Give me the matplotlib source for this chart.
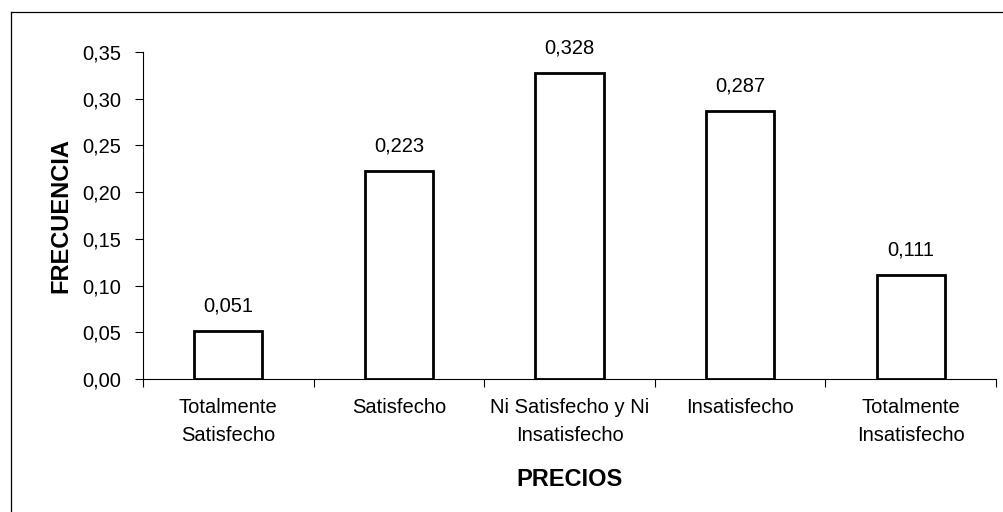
import matplotlib.pyplot as plt
import numpy as np
from matplotlib.lines import Line2D

categorias = ["Totalmente\nSatisfecho", "Satisfecho", "Ni Satisfecho y Ni\nInsatisfecho",
              "Insatisfecho", "Totalmente\nInsatisfecho"]
frecuencia = [0.051, 0.223, 0.328, 0.287, 0.111]
etiquetas = ["0,051", "0,223", "0,328", "0,287", "0,111"]
yticks = [0.0, 0.05, 0.10, 0.15, 0.20, 0.25, 0.30, 0.35]
yticklabels = ["0,00", "0,05", "0,10", "0,15", "0,20", "0,25", "0,30", "0,35"]

plt.rcParams['font.family'] = ['Liberation Sans', 'DejaVu Sans']

fig = plt.figure(figsize=(10.04, 5.12), dpi=100)
ax = fig.add_axes([143 / 1004, 1 - 379 / 512, (996 - 143) / 1004, (379 - 52) / 512])

x = np.arange(len(categorias))
ax.bar(x, frecuencia, width=0.4, color="white", edgecolor="black", linewidth=2.0)

for xi, v, lab in zip(x, frecuencia, etiquetas):
    ax.annotate(lab, (xi, v), xytext=(0, 14), textcoords="offset points",
                ha="center", va="baseline", fontsize=14.5)

ax.set_xlim(-0.5, 4.5)
ax.set_ylim(0, 0.35)
ax.set_yticks(yticks)
ax.set_yticklabels(yticklabels, fontsize=14.5)
ax.set_xticks(x)
ax.set_xticklabels(categorias, fontsize=14.5, linespacing=1.6)
ax.set_xticks(np.arange(-0.5, 5, 1), minor=True)
ax.tick_params(axis="x", which="major", length=0, pad=14)
ax.tick_params(axis="x", which="minor", length=6, width=0.8, direction="out")
ax.tick_params(axis="y", length=6, width=0.8, direction="out", pad=10)

for s in ["top", "right"]:
    ax.spines[s].set_visible(False)
for s in ["left", "bottom"]:
    ax.spines[s].set_linewidth(0.8)

ax.set_ylabel("FRECUENCIA", fontsize=17, fontweight="bold", labelpad=7)
ax.set_xlabel("PRECIOS", fontsize=17, fontweight="bold", labelpad=16)

# marco exterior (solo borde izquierdo y superior visibles)
fig.add_artist(Line2D([11 / 1004, 11 / 1004], [0, 1 - 12 / 512], transform=fig.transFigure,
                      color="black", linewidth=0.9))
fig.add_artist(Line2D([11 / 1004, 1], [1 - 12 / 512, 1 - 12 / 512], transform=fig.transFigure,
                      color="black", linewidth=0.9))

fig.savefig("out.png", dpi=100)
